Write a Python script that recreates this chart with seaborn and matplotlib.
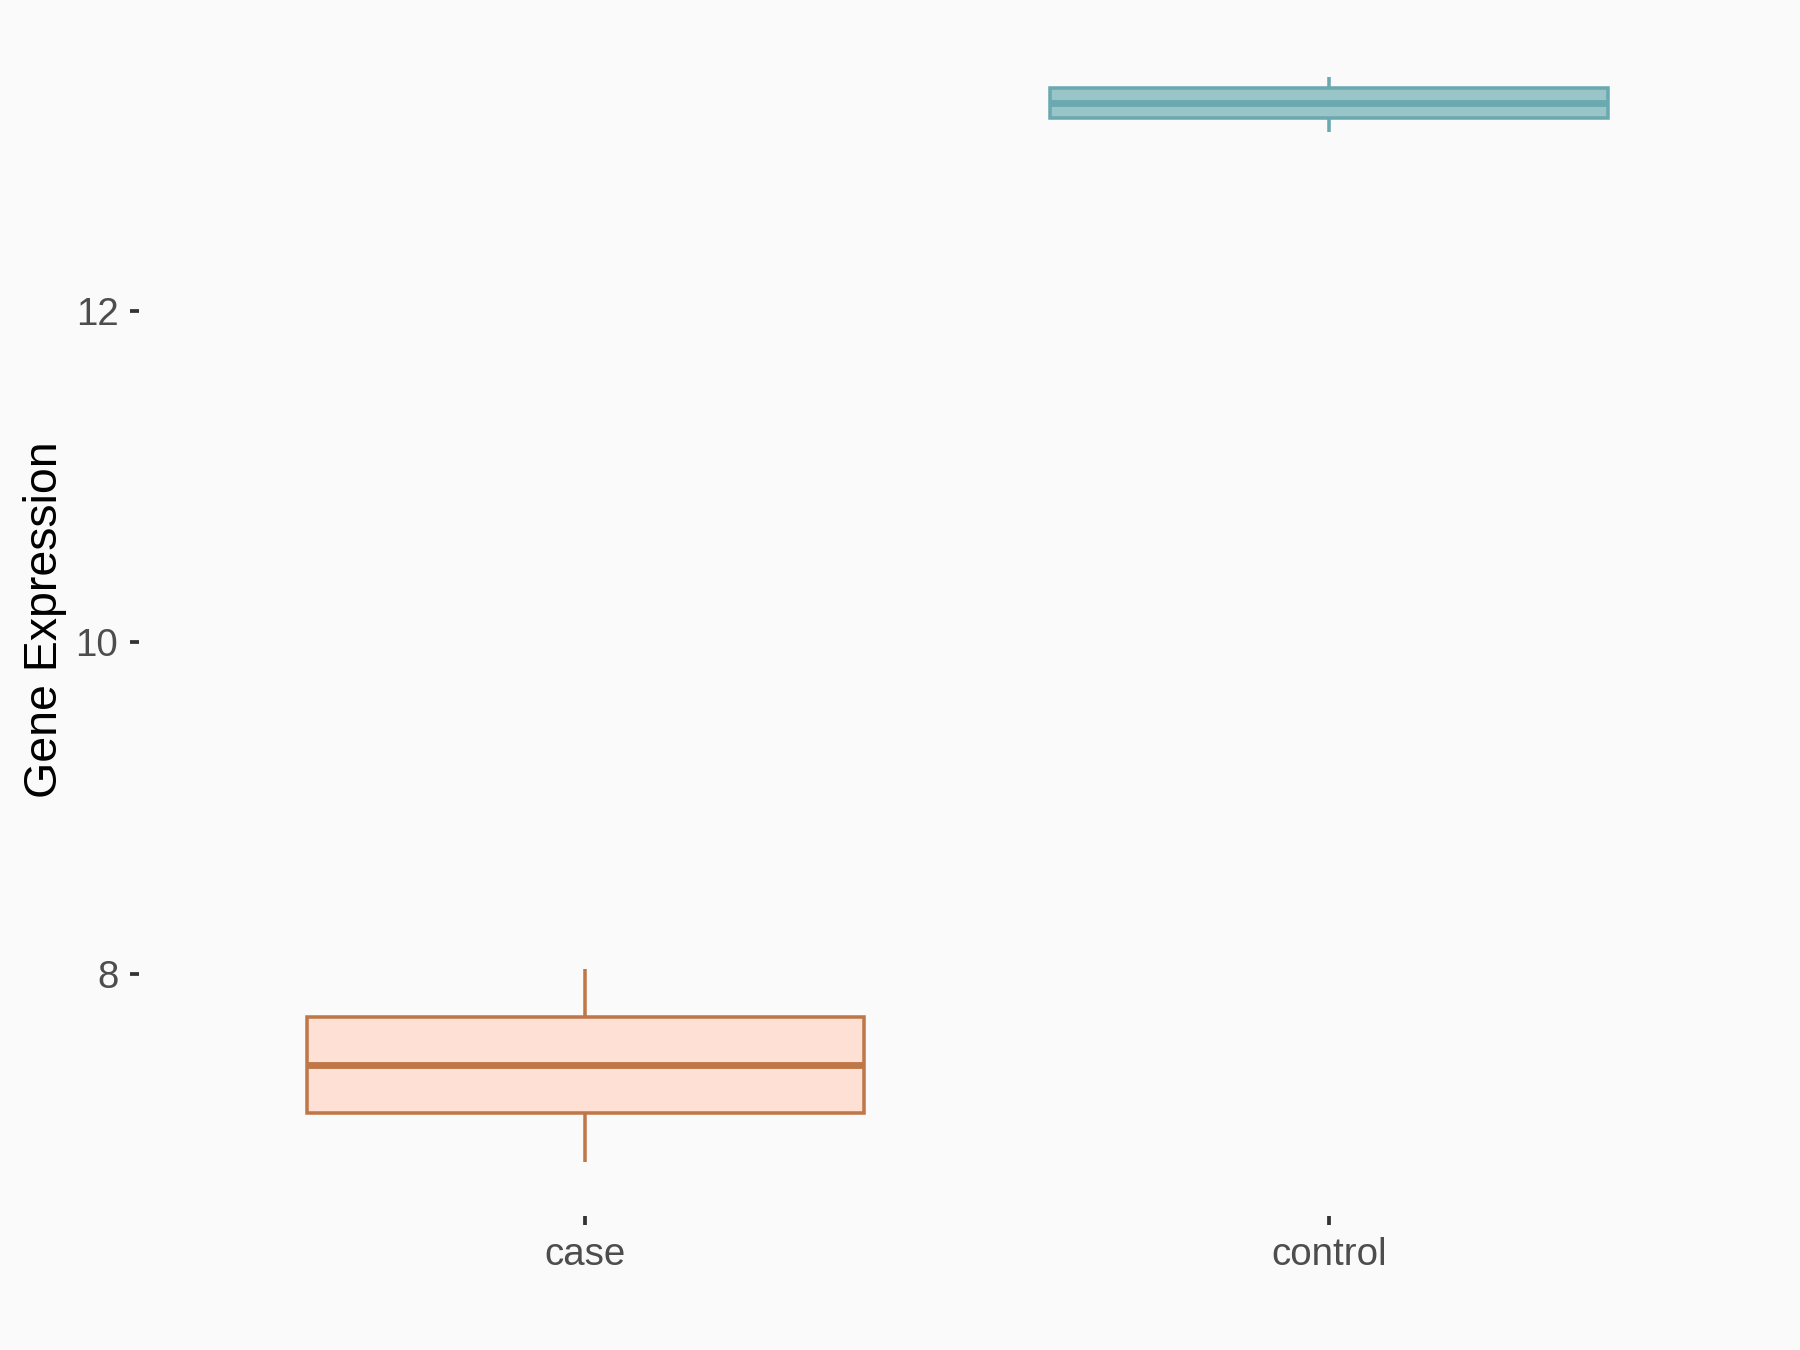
import numpy as np
import pandas as pd
import matplotlib
matplotlib.use("Agg")
import matplotlib.pyplot as plt
import seaborn as sns

# Data (five-number summaries)
groups = ["case", "control"]
case_values = [6.87, 7.16, 7.45, 7.74, 8.03]
control_values = [13.08, 13.16, 13.25, 13.34, 13.41]
fills = ["#FFE0D5", "#99C4C8"]
edges = ["#C07748", "#6BA9B0"]
y_ticks = [8, 10, 12]

df = pd.DataFrame({
    "group": ["case"] * len(case_values) + ["control"] * len(control_values),
    "value": case_values + control_values,
})

sns.set_theme(style="white")
plt.rcParams["font.family"] = ["Liberation Sans", "DejaVu Sans"]

bg = "#FAFAFA"
fig = plt.figure(figsize=(12, 9), dpi=150, facecolor=bg)
ax = fig.add_axes([0.0773, 0.0993, 0.9092, 0.884])
ax.set_facecolor(bg)

for g, fc, ec in zip(groups, fills, edges):
    sns.boxplot(
        data=df[df["group"] == g], x="group", y="value", order=groups,
        color=fc, linecolor=ec, saturation=1, width=0.75, whis=np.inf,
        showcaps=False, linewidth=1.7, fliersize=0,
        medianprops={"linewidth": 3.3, "color": ec},
        ax=ax,
    )

ax.set_xlim(-0.6, 1.6)
ax.set_ylim(6.542, 13.737)
ax.set_yticks(y_ticks)
ax.set_yticklabels([str(t) for t in y_ticks])
for s in ax.spines.values():
    s.set_visible(False)
ax.grid(False)
ax.tick_params(axis="both", which="major", length=4.5, width=1.8, color="#333333",
               labelcolor="#4D4D4D", labelsize=18.5, pad=5.5, left=True, bottom=True)
ax.set_xlabel("")
ax.set_ylabel("Gene Expression", fontsize=22.3, color="black", labelpad=4)

fig.savefig("out.png", dpi=150, facecolor=bg)
